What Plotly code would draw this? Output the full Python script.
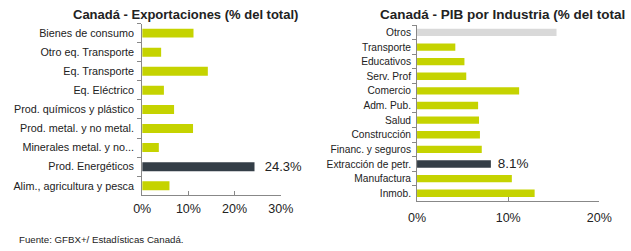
import plotly.graph_objects as go

exp_cats = ["Bienes de consumo", "Otro eq. Transporte", "Eq. Transporte", "Eq. Eléctrico",
            "Prod. químicos y plástico", "Prod. metal. y no metal.", "Minerales metal. y no...",
            "Prod. Energéticos", "Alim., agricultura y pesca"]
exp_vals = [11.1, 4.1, 14.2, 4.7, 6.9, 11.0, 3.6, 24.3, 5.9]
exp_labels = ["", "", "", "", "", "", "", "  24.3%", ""]

pib_cats = ["Otros", "Transporte", "Educativos", "Serv. Prof", "Comercio", "Adm. Pub.", "Salud",
            "Construcción", "Financ. y seguros", "Extracción de petr.", "Manufactura", "Inmob."]
pib_vals = [15.3, 4.2, 5.2, 5.4, 11.2, 6.7, 6.8, 6.9, 7.1, 8.1, 10.4, 12.9]
pib_labels = ["", "", "", "", "", "", "", "", "", " 8.1%", "", ""]

exp_ticks = [0, 10, 20, 30]
exp_ticktext = ["0%", "10%", "20%", "30%"]
pib_ticks = [0, 10, 20]
pib_ticktext = ["0%", "10%", "20%"]

GREEN = "#c5d300"
DARK = "#343e47"
GREY = "#d9d9d9"

exp_colors = [DARK if c == "Prod. Energéticos" else GREEN for c in exp_cats]
pib_colors = [DARK if c == "Extracción de petr." else (GREY if c == "Otros" else GREEN) for c in pib_cats]

FONT = "Liberation Sans, Arial, sans-serif"

fig = go.Figure()
fig.add_trace(go.Bar(x=exp_vals, y=exp_cats, orientation="h", marker=dict(color=exp_colors, line=dict(width=0)),
                     width=0.47, text=exp_labels, textposition="outside", cliponaxis=False, constraintext="none",
                     textfont=dict(size=13, color="#222", family=FONT), xaxis="x", yaxis="y"))
fig.add_trace(go.Bar(x=pib_vals, y=pib_cats, orientation="h", marker=dict(color=pib_colors, line=dict(width=0)),
                     width=0.5, text=pib_labels, textposition="outside", cliponaxis=False, constraintext="none",
                     textfont=dict(size=13.5, color="#222", family=FONT), xaxis="x2", yaxis="y2"))

axis_common = dict(showgrid=False, zeroline=False, showline=True, linecolor="#888", linewidth=1)

fig.update_layout(
    width=631, height=251, margin=dict(l=0, r=0, t=0, b=0),
    paper_bgcolor="white", plot_bgcolor="white", showlegend=False,
    font=dict(family=FONT, color="#222"),
    xaxis=dict(domain=[0.2187, 0.4464], range=[0, 30], tickvals=exp_ticks, ticktext=exp_ticktext,
               ticks="inside", ticklen=4, tickcolor="#888", anchor="y", ticklabelstandoff=2,
               tickfont=dict(size=12.5, color="#222", family=FONT), **axis_common),
    yaxis=dict(domain=[0.222, 0.906], autorange="reversed", ticks="outside", ticklen=4, tickcolor="#888",
               tickson="boundaries", anchor="x", ticklabelstandoff=5,
               tickfont=dict(size=10.8, color="#222", family=FONT), **axis_common),
    xaxis2=dict(domain=[0.670, 0.9694], range=[0, 20], tickvals=pib_ticks, ticktext=pib_ticktext,
                ticks="inside", ticklen=4, tickcolor="#888", anchor="y2", ticklabelstandoff=5,
                tickfont=dict(size=12.5, color="#222", family=FONT), **axis_common),
    yaxis2=dict(domain=[0.201, 0.900], autorange="reversed", ticks="outside", ticklen=4, tickcolor="#888",
                tickson="boundaries", anchor="x2", ticklabelstandoff=3,
                tickfont=dict(size=10.2, color="#222", family=FONT), **axis_common),
    annotations=[
        dict(text="<b>Canadá - Exportaciones (% del total)</b>", x=183/631, y=1 - 15/251, xref="paper", yref="paper",
             showarrow=False, xanchor="center", yanchor="middle", font=dict(size=13, color="#222", family=FONT)),
        dict(text="<b>Canadá - PIB por Industria (% del total</b>", x=382/631, y=1 - 15/251, xref="paper", yref="paper",
             showarrow=False, xanchor="left", yanchor="middle", font=dict(size=13.5, color="#222", family=FONT)),
        dict(text="Fuente: GFBX+/ Estadísticas Canadá.", x=8/631, y=1 - 239/251, xref="paper", yref="paper",
             showarrow=False, xanchor="left", yanchor="middle", font=dict(size=9.7, color="#222", family=FONT)),
    ],
)

fig.write_html("out.html")
